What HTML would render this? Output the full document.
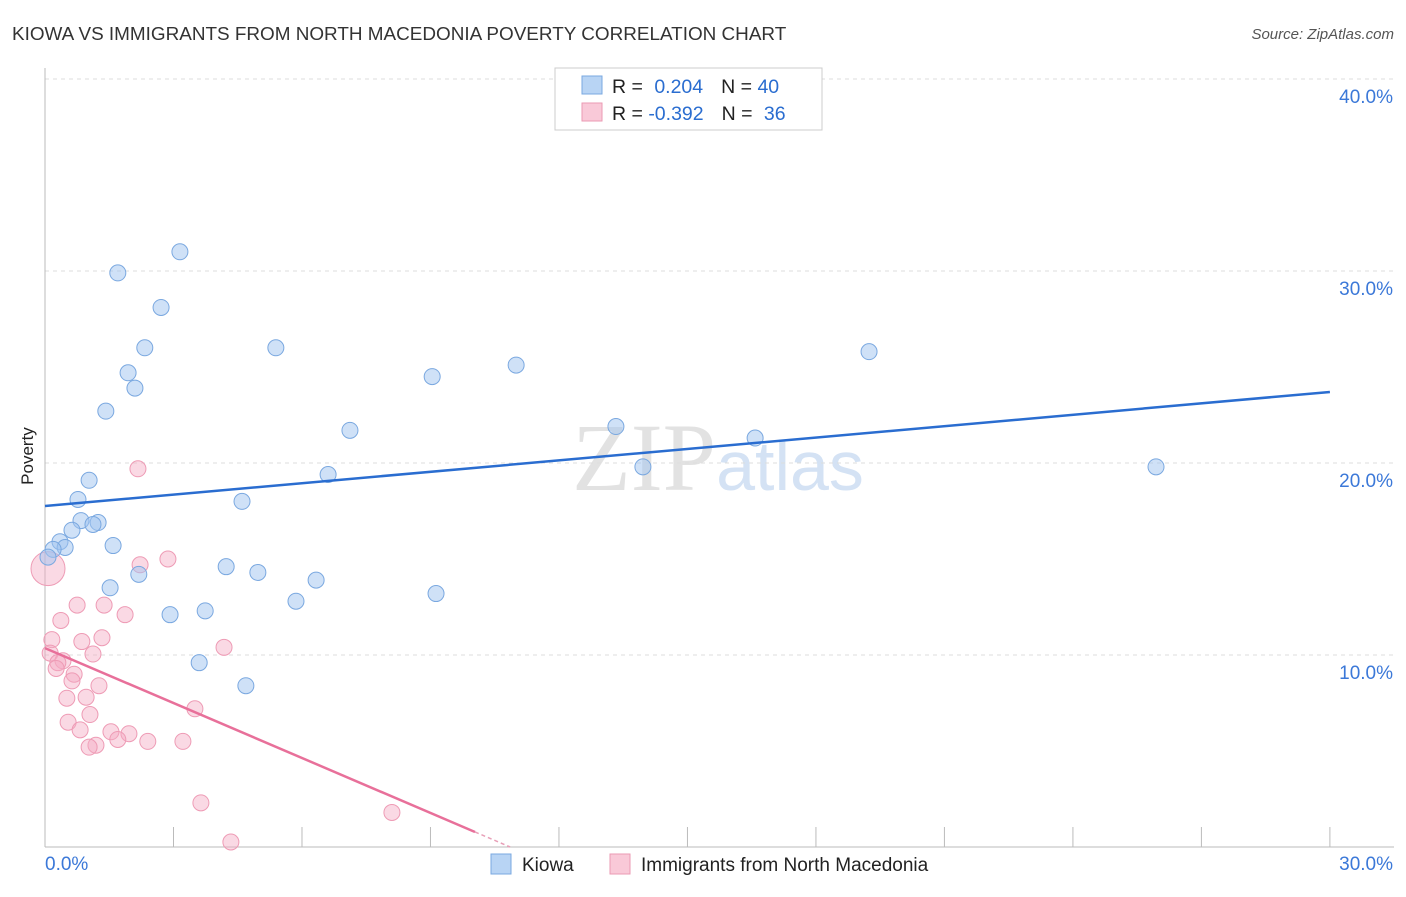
<!DOCTYPE html>
<html><head><meta charset="utf-8"><style>
body{margin:0;background:#fff;font-family:"Liberation Sans",sans-serif}
#c{position:relative;width:1406px;height:892px}
</style></head><body>
<div id="c">
<svg id="s" width="1406" height="892" xmlns="http://www.w3.org/2000/svg">
<text x="12" y="40" font-size="18.9" fill="#333">KIOWA VS IMMIGRANTS FROM NORTH MACEDONIA POVERTY CORRELATION CHART</text>
<text x="1394" y="39" font-size="15" fill="#555" font-style="italic" text-anchor="end">Source: ZipAtlas.com</text>
<text x="33" y="456" font-size="17" fill="#222" text-anchor="middle" transform="rotate(-90 33 456)">Poverty</text>
<text x="718" y="490" font-size="96" fill="#e2e2e2" text-anchor="middle" font-family="Liberation Serif">ZIP<tspan fill="#d4e2f4" font-family="Liberation Sans" font-size="70">atlas</tspan></text>
<g id="grid"></g><g id="axes"></g><g id="pts"></g><g id="lines"></g>
<g>
<rect x="555" y="68" width="267" height="62" fill="#fff" stroke="#ccc"/>
<rect x="582" y="76" width="20" height="18" fill="#b8d4f4" stroke="#7aa8e0"/>
<rect x="582" y="103" width="20" height="18" fill="#f9c9d8" stroke="#eb9ab3"/>
<text x="612" y="93" font-size="19.5" fill="#222">R = <tspan fill="#2a6dd0" dx="6">0.204</tspan><tspan dx="18" fill="#222">N = </tspan><tspan fill="#2a6dd0">40</tspan></text>
<text x="612" y="120" font-size="19.5" fill="#222">R = <tspan fill="#2a6dd0">-0.392</tspan><tspan dx="18" fill="#222">N = </tspan><tspan fill="#2a6dd0" dx="6">36</tspan></text>
</g>
<g>
<rect x="491" y="854" width="20" height="20" fill="#b8d4f4" stroke="#7aa8e0"/>
<text x="522" y="871" font-size="19" fill="#222">Kiowa</text>
<rect x="610" y="854" width="20" height="20" fill="#f9c9d8" stroke="#eb9ab3"/>
<text x="641" y="871" font-size="19" fill="#222">Immigrants from North Macedonia</text>
</g>
</svg></div>
<script>
const kiowaX=[3.15,1.70,2.71,2.33,5.39,1.94,2.10,9.04,11.0,19.24,1.42,7.12,13.33,16.58,13.96,25.94,6.61,1.03,0.77,4.60,0.84,1.24,1.12,0.63,0.35,0.47,0.19,1.59,0.07,4.23,4.97,2.19,6.33,1.52,9.13,5.86,3.74,2.92,3.60,4.69];
const kiowaY=[31.0,29.9,28.1,26.0,26.0,24.7,23.9,24.5,25.1,25.8,22.7,21.7,21.9,21.3,19.8,19.8,19.4,19.1,18.1,18.0,17.0,16.9,16.8,16.5,15.9,15.6,15.5,15.7,15.1,14.6,14.3,14.2,13.9,13.5,13.2,12.8,12.3,12.1,9.6,8.4];
const macX=[2.17,2.87,2.22,0.07,0.75,1.38,1.87,0.37,0.16,0.86,1.33,4.18,1.12,0.12,0.42,0.30,0.26,0.68,0.63,1.26,0.51,0.96,3.50,1.05,0.54,0.82,1.54,1.96,1.70,2.40,3.22,1.19,1.03,3.64,8.10,4.34];
const macY=[19.7,15.0,14.7,14.5,12.6,12.6,12.1,11.8,10.8,10.7,10.9,10.4,10.05,10.1,9.7,9.6,9.3,9.0,8.65,8.4,7.75,7.8,7.2,6.9,6.5,6.1,6.0,5.9,5.6,5.5,5.5,5.3,5.2,2.3,1.8,0.26];
const yTicks=[10,20,30,40];
const yTickLabels=["10.0%","20.0%","30.0%","40.0%"];
const xTicks=[0,3,6,9,12,15,18,21,24,27,30];
const kiowaTrend=[17.76,23.7];
const macTrend=[10.36,-18.26];
const sx=v=>45+v*42.83, sy=v=>847-v*19.2;
const NS="http://www.w3.org/2000/svg";
function mk(p,t,a){const e=document.createElementNS(NS,t);for(const k in a)e.setAttribute(k,a[k]);document.getElementById(p).appendChild(e);return e;}
yTicks.forEach((v,i)=>{
 const g=mk('grid','line',{x1:45,x2:1394,y1:sy(v),y2:sy(v),stroke:'#ddd','stroke-dasharray':'4 4'});
 
 
 const t=mk('axes','text',{x:1393,y:sy(v)+24,'font-size':19,fill:'#3b78d8','text-anchor':'end'});
 t.textContent=yTickLabels[i];
 
 
});
const ax=mk('axes','line',{x1:45,x2:1394,y1:847,y2:847,stroke:'#bbb'});


const ay=mk('axes','line',{x1:45,x2:45,y1:68,y2:847,stroke:'#bbb'});


xTicks.forEach(v=>{
 const l=mk('axes','line',{x1:sx(v),x2:sx(v),y1:827,y2:847,stroke:'#bbb'});
 
 
});
const x0=mk('axes','text',{x:45,y:870,'font-size':19,fill:'#3b78d8'});x0.textContent='0.0%';


const x1=mk('axes','text',{x:1393,y:870,'font-size':19,fill:'#3b78d8','text-anchor':'end'});x1.textContent='30.0%';


macX.forEach((x,i)=>{
 const c=mk('pts','circle',{cx:sx(x),cy:sy(macY[i]),r:i===3?17:8,fill:'rgba(245,170,195,0.45)',stroke:'#ee9bb5','stroke-width':1});
 
 
});
kiowaX.forEach((x,i)=>{
 const c=mk('pts','circle',{cx:sx(x),cy:sy(kiowaY[i]),r:8,fill:'rgba(160,195,240,0.5)',stroke:'#7aa8e0','stroke-width':1});
 
 
});
const bl=mk('lines','line',{x1:sx(0),y1:sy(kiowaTrend[0]),x2:sx(30),y2:sy(kiowaTrend[1]),stroke:'#2a6dd0','stroke-width':2.5});


const slope=(macTrend[1]-macTrend[0])/30;
const xe=10.04;
const pl=mk('lines','line',{x1:sx(0),y1:sy(macTrend[0]),x2:sx(xe),y2:sy(macTrend[0]+slope*xe),stroke:'#e8709a','stroke-width':2.5});


const xz=-macTrend[0]/slope;
const pd=mk('lines','line',{x1:sx(xe),y1:sy(macTrend[0]+slope*xe),x2:sx(xz),y2:sy(0),stroke:'#e8a0b8','stroke-width':1.5,'stroke-dasharray':'4 3'});


</script>
</body></html>
